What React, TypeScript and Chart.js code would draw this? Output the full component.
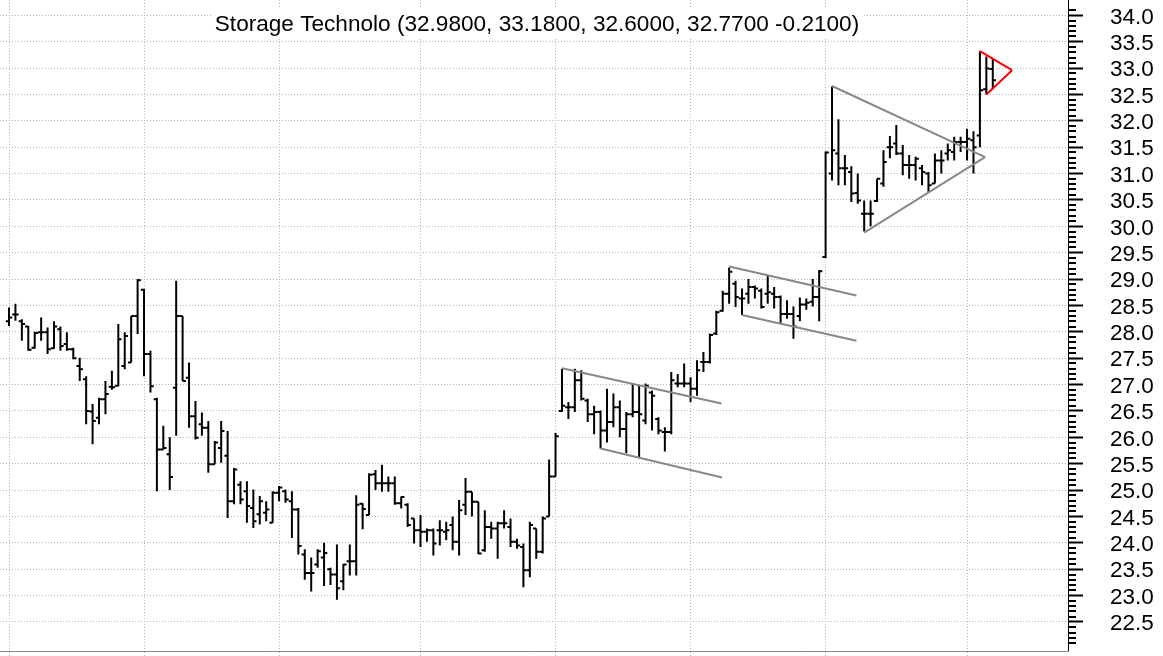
import React, { useEffect, useRef } from 'react';
import { Chart, registerables } from 'chart.js';

Chart.register(...registerables);

const chartTitle = 'Storage Technolo (32.9800, 33.1800, 32.6000, 32.7700 -0.2100)';

const opens = [
  28.2, 28.33, 28.2, 28.1, 27.7, 27.99, 27.99, 27.69, 28.05, 27.77,
  27.67, 27.35, 27.1, 26.49, 26.37, 26.72, 26.96, 26.98, 27.35, 27.42,
  28.3, 28.8, 27.58, 26.72, 25.77, 25.68, 26.94, 28.3, 27.13, 26.4,
  26.25, 26.18, 25.49, 25.8, 25.65, 24.79, 25.1, 24.98, 24.66, 24.54,
  24.57, 24.38, 24.95, 24.98, 24.79, 24.63, 23.78, 23.43, 23.59, 23.72,
  23.5, 23.4, 23.27, 23.65, 23.65, 24.74, 24.53, 25.3, 25.13, 25.13,
  25.13, 24.75, 24.72, 24.46, 24.24, 24.21, 24.24, 24.24, 24.21, 24.34,
  24.02, 24.72, 24.97, 24.78, 23.86, 24.3, 24.27, 24.37, 24.3, 24.02,
  23.92, 23.48, 24.27, 23.83, 24.5, 25.26, 26.5, 26.57, 26.57, 27.08,
  26.7, 26.44, 26.48, 26.13, 26.29, 26.57, 26.16, 26.44, 26.48, 26.32,
  26.85, 26.35, 26.1, 26.1, 27.02, 27.02, 27.02, 26.92, 27.43, 27.43,
  27.97, 28.4, 28.72, 28.91, 28.63, 28.72, 28.85, 28.78, 28.72, 28.72,
  28.66, 28.34, 28.34, 28.3, 28.52, 28.57, 28.66, 29.42, 31.0, 31.38,
  31.1, 31.03, 30.63, 30.24, 30.24, 30.48, 30.81, 31.5, 31.57, 31.38,
  31.16, 31.16, 31.1, 31.0, 30.81, 31.25, 31.38, 31.41, 31.6, 31.6,
  31.63, 31.72, 32.6, 32.98,
];

const highs = [
  28.46, 28.53, 28.24, 28.11, 28.0, 28.27, 28.08, 28.2, 28.1, 27.99,
  27.7, 27.51, 27.16, 26.63, 26.75, 27.07, 27.26, 28.15, 27.99, 28.3,
  29.0, 28.81, 27.64, 26.75, 26.22, 26.0, 28.97, 28.3, 27.42, 26.69,
  26.47, 26.31, 25.93, 26.31, 26.12, 25.42, 25.17, 25.17, 25.01, 24.89,
  24.79, 24.98, 25.08, 25.01, 24.98, 24.66, 23.88, 23.72, 23.88, 24.0,
  23.53, 23.97, 23.6, 23.97, 24.9, 24.75, 25.32, 25.38, 25.48, 25.26,
  25.26, 24.88, 24.75, 24.46, 24.53, 24.27, 24.27, 24.43, 24.4, 24.5,
  24.81, 25.23, 24.97, 24.78, 24.62, 24.4, 24.4, 24.62, 24.46, 24.08,
  23.99, 24.4, 24.27, 24.5, 25.58, 26.08, 27.3, 26.67, 27.3, 27.27,
  26.73, 26.6, 26.51, 26.92, 26.83, 26.7, 26.48, 27.02, 26.98, 27.02,
  26.89, 26.38, 26.19, 27.24, 27.2, 27.4, 27.14, 27.46, 27.62, 27.97,
  28.4, 28.78, 29.22, 28.97, 28.82, 29.0, 28.88, 28.82, 29.07, 28.85,
  28.69, 28.6, 28.48, 28.65, 28.63, 29.0, 29.17, 31.42, 32.65, 32.03,
  31.35, 31.14, 31.0, 30.49, 30.49, 30.9, 31.44, 31.71, 31.92, 31.54,
  31.35, 31.32, 31.16, 31.03, 31.38, 31.44, 31.57, 31.7, 31.7, 31.85,
  31.8, 33.32, 33.22, 33.18,
];

const lows = [
  28.11, 28.21, 27.83, 27.64, 27.68, 27.83, 27.58, 27.68, 27.64, 27.64,
  27.48, 27.07, 26.25, 25.87, 26.25, 26.44, 26.9, 26.97, 27.29, 27.42,
  27.96, 27.16, 26.85, 24.98, 25.77, 25.0, 26.03, 27.07, 26.18, 25.96,
  26.03, 25.33, 25.49, 25.52, 24.47, 24.73, 24.73, 24.38, 24.28, 24.35,
  24.41, 24.38, 24.79, 24.76, 24.09, 23.78, 23.3, 23.08, 23.53, 23.18,
  23.2, 22.92, 23.1, 23.38, 23.38, 24.26, 24.53, 25.0, 24.97, 24.97,
  24.72, 24.65, 24.3, 23.99, 23.92, 24.02, 23.76, 23.95, 24.05, 23.86,
  23.76, 24.53, 24.5, 23.79, 23.83, 24.08, 23.7, 24.27, 23.92, 23.89,
  23.16, 23.35, 23.7, 23.8, 24.5, 25.26, 26.48, 26.35, 26.48, 26.7,
  26.29, 26.06, 25.79, 25.9, 26.19, 26.0, 25.7, 26.38, 25.62, 26.25,
  26.13, 26.06, 25.73, 26.06, 26.95, 26.95, 26.67, 26.79, 27.24, 27.4,
  27.94, 28.38, 28.53, 28.47, 28.32, 28.53, 28.63, 28.44, 28.53, 28.44,
  28.15, 28.25, 27.87, 28.2, 28.42, 28.48, 28.2, 29.4, 30.87, 30.78,
  30.78, 30.46, 30.43, 29.9, 30.0, 30.46, 30.75, 31.29, 31.35, 30.97,
  30.9, 30.87, 30.78, 30.65, 30.81, 31.0, 31.25, 31.25, 31.41, 31.25,
  31.0, 31.5, 32.5, 32.6,
];

const closes = [
  28.27, 28.33, 28.15, 27.66, 27.98, 27.99, 27.67, 28.1, 27.73, 27.67,
  27.5, 27.29, 26.5, 26.31, 26.72, 26.82, 26.95, 27.86, 27.92, 28.3,
  28.98, 27.58, 26.97, 25.77, 25.8, 25.25, 28.3, 27.07, 26.4, 25.99,
  26.18, 25.49, 25.9, 26.12, 24.79, 25.39, 24.82, 24.7, 24.41, 24.79,
  24.63, 24.95, 25.05, 24.82, 24.63, 23.94, 23.43, 23.43, 23.84, 23.81,
  23.4, 23.14, 23.59, 23.65, 24.72, 24.64, 25.29, 25.13, 25.13, 25.13,
  24.75, 24.87, 24.34, 24.24, 24.21, 24.24, 23.99, 24.24, 24.24, 24.02,
  24.62, 24.97, 24.78, 23.8, 24.3, 24.27, 24.37, 24.37, 24.02, 23.95,
  23.48, 24.34, 23.83, 24.46, 25.26, 26.02, 26.6, 26.57, 27.08, 26.73,
  26.44, 26.48, 26.13, 26.29, 26.57, 26.16, 26.44, 26.48, 26.44, 26.98,
  26.79, 26.13, 26.1, 27.08, 27.02, 27.02, 26.92, 27.27, 27.43, 27.94,
  28.37, 28.72, 29.14, 28.66, 28.63, 28.85, 28.82, 28.47, 28.75, 28.66,
  28.34, 28.34, 28.1, 28.52, 28.55, 28.66, 29.15, 31.4, 31.44, 31.1,
  31.1, 30.62, 30.49, 30.24, 30.24, 30.9, 31.22, 31.5, 31.38, 31.16,
  31.16, 31.28, 31.03, 30.78, 31.25, 31.25, 31.44, 31.6, 31.6, 31.66,
  31.5, 32.58, 32.99, 32.77,
];

// bar indices where months start (vertical grid lines)
const monthStarts = [0, 21, 42, 64, 85, 106, 127, 149];

// price labels on the right axis
const priceLabels = [
  '22.5', '23.0', '23.5', '24.0', '24.5', '25.0', '25.5', '26.0', '26.5', '27.0', '27.5', '28.0',
  '28.5', '29.0', '29.5', '30.0', '30.5', '31.0', '31.5', '32.0', '32.5', '33.0', '33.5', '34.0',
];

// trend lines: [startIndex, startPrice, endIndex, endPrice]
const channel1Upper = [86, 27.31, 110.8, 26.64];
const channel1Lower = [92, 25.79, 110.9, 25.24];
const channel2Upper = [112, 29.24, 131.8, 28.69];
const channel2Lower = [114, 28.32, 131.8, 27.83];
const triangleUpper = [128, 32.66, 151.8, 31.31];
const triangleLower = [133, 29.88, 151.8, 31.31];
const flagUpper = [151, 33.32, 156, 32.96];
const flagLower = [152, 32.5, 156, 32.96];

const FONT = '"Liberation Sans", Arial, Helvetica, sans-serif';

const isMajor = (v: number) => Math.abs(v * 2 - Math.round(v * 2)) < 1e-6;
const isTenth = (v: number) => Math.abs(v * 10 - Math.round(v * 10)) < 1e-6;

export default function App() {
  const ref = useRef<HTMLCanvasElement>(null);

  useEffect(() => {
    const canvas = ref.current;
    if (!canvas) return;

    const hl: any[] = [];
    const op: any[] = [];
    const cl: any[] = [];
    for (let i = 0; i < opens.length; i++) {
      hl.push({ x: i, y: lows[i] }, { x: i, y: highs[i] }, { x: i, y: null });
      op.push({ x: i - 0.5, y: opens[i] }, { x: i, y: opens[i] }, { x: i, y: null });
      cl.push({ x: i, y: closes[i] }, { x: i + 0.5, y: closes[i] }, { x: i + 0.5, y: null });
    }

    const lineDs = (seg: number[], color: string) => ({
      type: 'line' as const,
      data: [{ x: seg[0], y: seg[1] }, { x: seg[2], y: seg[3] }],
      borderColor: color,
      borderWidth: 2,
      pointRadius: 0,
      fill: false,
    });

    const barDs = (data: any[]) => ({
      type: 'line' as const,
      data,
      borderColor: '#000000',
      borderWidth: 2,
      pointRadius: 0,
      spanGaps: false,
      fill: false,
    });

    const titlePlugin = {
      id: 'boxTitle',
      beforeDatasetsDraw(chart: any) {
        const { ctx, chartArea } = chart;
        ctx.save();
        ctx.font = `22.6px ${FONT}`;
        const w = ctx.measureText(chartTitle).width;
        const cx = (chartArea.left + chartArea.right) / 2 + 3;
        const baseY = 31;
        ctx.fillStyle = '#ffffff';
        ctx.fillRect(cx - w / 2 - 3, 8, w + 6, 30);
        ctx.fillStyle = '#000000';
        ctx.textAlign = 'center';
        ctx.textBaseline = 'alphabetic';
        ctx.fillText(chartTitle, cx, baseY);
        ctx.restore();
      },
    };

    const chart = new Chart(canvas, {
      type: 'line',
      data: {
        datasets: [
          lineDs(channel1Upper, '#888888'),
          lineDs(channel1Lower, '#888888'),
          lineDs(channel2Upper, '#888888'),
          lineDs(channel2Lower, '#888888'),
          lineDs(triangleUpper, '#888888'),
          lineDs(triangleLower, '#888888'),
          lineDs(flagUpper, '#ff0000'),
          lineDs(flagLower, '#ff0000'),
          barDs(hl),
          barDs(op),
          barDs(cl),
        ] as any,
      },
      options: {
        responsive: false,
        animation: false,
        events: [],
        layout: { padding: 0 },
        plugins: {
          legend: { display: false },
          tooltip: { enabled: false },
          title: { display: false },
        },
        scales: {
          x: {
            type: 'linear',
            position: 'bottom',
            min: -1.4,
            max: 164.7,
            afterBuildTicks: (s: any) => {
              s.ticks = monthStarts.map((v) => ({ value: v }));
            },
            afterFit: (s: any) => {
              s.height = 5;
              s.paddingLeft = 0;
              s.paddingRight = 0;
            },
            ticks: { display: false },
            grid: {
              color: '#b4b4b4',
              lineWidth: 1,
              drawTicks: true,
              tickLength: 5,
              tickColor: '#b4b4b4',
              tickWidth: 1,
              tickBorderDash: [1, 2],
            },
            border: { display: true, color: '#888888', width: 1, dash: [1, 2] },
          },
          y: {
            type: 'linear',
            position: 'right',
            min: 21.95,
            max: 34.29,
            afterBuildTicks: (s: any) => {
              s.ticks = s.ticks.filter((t: any) => isTenth(t.value));
            },
            afterFit: (s: any) => {
              s.width = 95;
              s.paddingTop = 0;
              s.paddingBottom = 0;
            },
            ticks: {
              stepSize: 0.1,
              autoSkip: false,
              padding: 27,
              labelOffset: 2,
              color: '#000000',
              font: { family: FONT, size: 22.5 },
              callback: (v: any) => {
                const s = Number(v).toFixed(1);
                return priceLabels.includes(s) ? s : '';
              },
            },
            grid: {
              color: (c: any) => (c.tick && isMajor(c.tick.value) ? '#b4b4b4' : 'rgba(0,0,0,0)'),
              lineWidth: (c: any) => (c.tick && isMajor(c.tick.value) ? 1 : 0),
              drawTicks: true,
              tickLength: 15,
              tickColor: '#000000',
              tickWidth: 2,
              tickBorderDash: (c: any) => (c.tick && isMajor(c.tick.value) ? [] : [7, 30]),
            },
            border: { display: true, color: '#000000', width: 1, dash: [1, 2] },
          },
        },
      } as any,
      plugins: [titlePlugin],
    });

    return () => chart.destroy();
  }, []);

  return (
    <div style={{ position: 'fixed', left: 0, top: 0, width: 1163, height: 656, background: '#ffffff' }}>
      <canvas ref={ref} width={1163} height={656} />
    </div>
  );
}
